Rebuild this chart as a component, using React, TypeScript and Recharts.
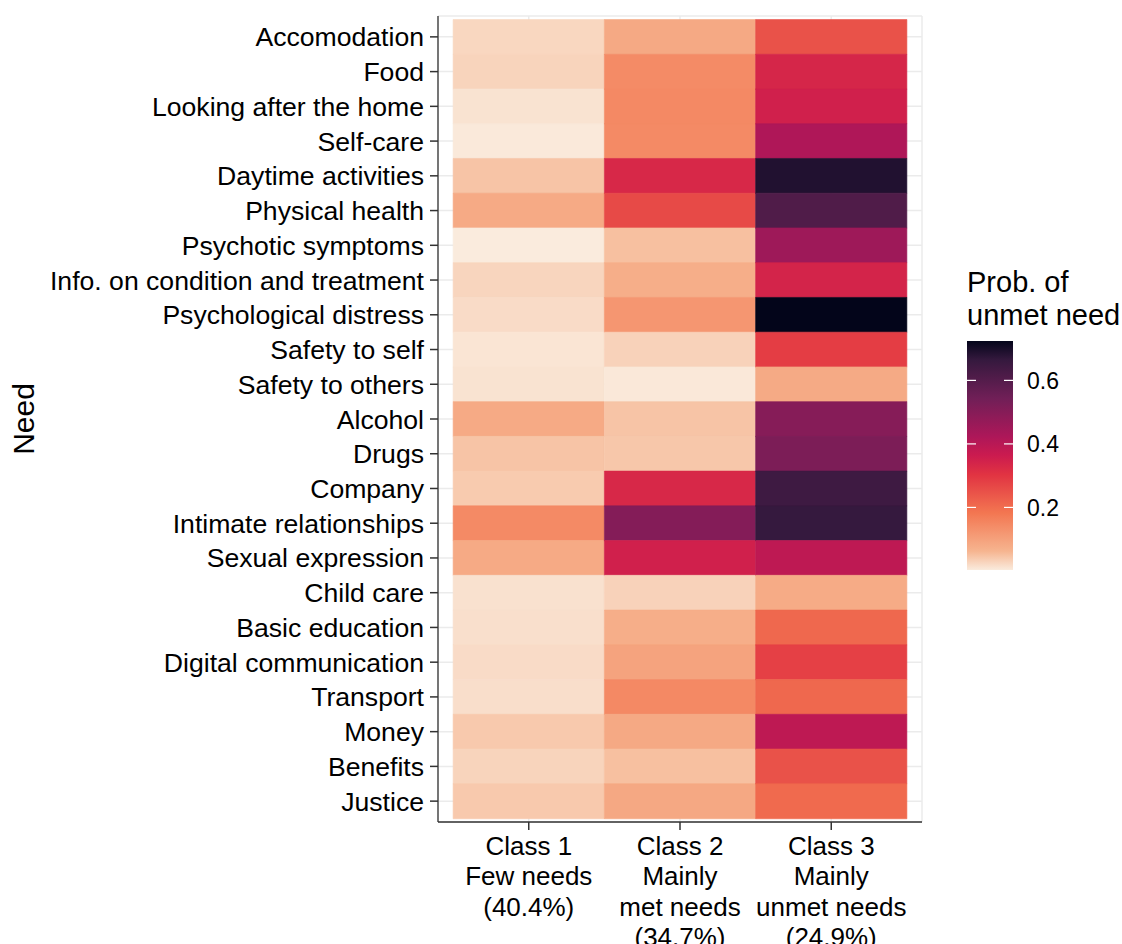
import React from 'react';
import { BarChart, Bar, Cell, XAxis, YAxis, CartesianGrid } from 'recharts';

// Needs, top to bottom
const NEEDS = [
  'Accomodation',
  'Food',
  'Looking after the home',
  'Self-care',
  'Daytime activities',
  'Physical health',
  'Psychotic symptoms',
  'Info. on condition and treatment',
  'Psychological distress',
  'Safety to self',
  'Safety to others',
  'Alcohol',
  'Drugs',
  'Company',
  'Intimate relationships',
  'Sexual expression',
  'Child care',
  'Basic education',
  'Digital communication',
  'Transport',
  'Money',
  'Benefits',
  'Justice',
];

// Probability of unmet need per latent class
const CLASS_1_FEW = [
  0.025, 0.028, 0.012, 0.005, 0.045, 0.082, 0.003, 0.027, 0.02, 0.01, 0.012, 0.082,
  0.045, 0.038, 0.145, 0.082, 0.014, 0.016, 0.02, 0.017, 0.04, 0.028, 0.04,
];
const CLASS_2_MET = [
  0.085, 0.142, 0.147, 0.145, 0.33, 0.262, 0.05, 0.075, 0.122, 0.03, 0.006, 0.045,
  0.042, 0.33, 0.505, 0.35, 0.03, 0.074, 0.096, 0.147, 0.085, 0.05, 0.087,
];
const CLASS_3_UNMET = [
  0.248, 0.335, 0.35, 0.42, 0.688, 0.609, 0.453, 0.342, 0.724, 0.285, 0.083, 0.5,
  0.52, 0.645, 0.664, 0.39, 0.08, 0.208, 0.28, 0.208, 0.39, 0.248, 0.205,
];

const CLASS_LABELS = [
  ['Class 1', 'Few needs', '(40.4%)'],
  ['Class 2', 'Mainly', 'met needs', '(34.7%)'],
  ['Class 3', 'Mainly', 'unmet needs', '(24.9%)'],
];
const CLASS_TICKS = [0.5, 1.5, 2.5];

const LEGEND_TITLE = ['Prob. of', 'unmet need'];
const LEGEND_TICKS = [0.2, 0.4, 0.6];

// Reversed "rocket" palette: light for low, dark for high
const ROCKET_REV: [number, string][] = [
  [0, '#FAEBDD'],
  [0.083, '#F6B48F'],
  [0.25, '#F37651'],
  [0.417, '#E13342'],
  [0.5, '#CB1B4F'],
  [0.583, '#AD1759'],
  [0.75, '#701F57'],
  [0.917, '#35193E'],
  [1, '#03051A'],
];

const FONT = '"Liberation Sans", Arial, Helvetica, sans-serif';
const GRID = '#EBEBEB';
const FRAME = '#333333';

const ALL_VALUES = [...CLASS_1_FEW, ...CLASS_2_MET, ...CLASS_3_UNMET];
const V_MIN = Math.min(...ALL_VALUES);
const V_MAX = Math.max(...ALL_VALUES);

const hexToRgb = (h: string) => [1, 3, 5].map((i) => parseInt(h.slice(i, i + 2), 16));

function rocket(value: number): string {
  const t = Math.max(0, Math.min(1, (value - V_MIN) / (V_MAX - V_MIN)));
  for (let i = 1; i < ROCKET_REV.length; i++) {
    const [t1, c1] = ROCKET_REV[i];
    const [t0, c0] = ROCKET_REV[i - 1];
    if (t <= t1) {
      const f = (t - t0) / (t1 - t0);
      const a = hexToRgb(c0);
      const b = hexToRgb(c1);
      const rgb = a.map((v, k) => Math.round(v + (b[k] - v) * f));
      return `rgb(${rgb[0]},${rgb[1]},${rgb[2]})`;
    }
  }
  return ROCKET_REV[ROCKET_REV.length - 1][1];
}

const rows = NEEDS.map((need, i) => ({
  need,
  p1: CLASS_1_FEW[i],
  p2: CLASS_2_MET[i],
  p3: CLASS_3_UNMET[i],
  // each class occupies one unit along the x scale
  w1: 1,
  w2: 1,
  w3: 1,
}));

const SERIES = [
  { span: 'w1', value: 'p1' },
  { span: 'w2', value: 'p2' },
  { span: 'w3', value: 'p3' },
];

const NeedTick = (props: any) => {
  const { x, y, payload } = props;
  return (
    <text x={x} y={y} dy={9.5} textAnchor="end" fontSize={26.6} fill="#000" fontFamily={FONT}>
      {payload.value}
    </text>
  );
};

const ClassTick = (props: any) => {
  const { x, y, payload } = props;
  const idx = CLASS_TICKS.indexOf(payload.value);
  const lines = CLASS_LABELS[idx] || [];
  return (
    <text x={x} y={y} textAnchor="middle" fontSize={26} fill="#000" fontFamily={FONT}>
      {lines.map((l, i) => (
        <tspan key={i} x={x} y={y + 19 + i * 30.3}>
          {l}
        </tspan>
      ))}
    </text>
  );
};

const NeedTitle = (props: any) => {
  const { viewBox } = props;
  const cx = viewBox.x + 34;
  const cy = viewBox.y + viewBox.height / 2;
  return (
    <text
      x={cx}
      y={cy}
      transform={`rotate(-90 ${cx} ${cy})`}
      textAnchor="middle"
      fontSize={30}
      fill="#000"
      fontFamily={FONT}
    >
      Need
    </text>
  );
};

const ColourBar = () => {
  const x = 967;
  const top = 341;
  const w = 46;
  const h = 229;
  const bottom = top + h;
  const yOf = (v: number) => bottom - ((v - V_MIN) / (V_MAX - V_MIN)) * h;
  return (
    <svg
      width={1122}
      height={944}
      style={{ position: 'absolute', left: 0, top: 0, pointerEvents: 'none' }}
    >
      <defs>
        <linearGradient id="rocketBar" x1="0" y1="1" x2="0" y2="0">
          {ROCKET_REV.map(([t, c]) => (
            <stop key={t} offset={t} stopColor={c} />
          ))}
        </linearGradient>
      </defs>
      {LEGEND_TITLE.map((l, i) => (
        <text key={l} x={x} y={292 + i * 33} fontSize={29} fill="#000" fontFamily={FONT}>
          {l}
        </text>
      ))}
      <rect x={x} y={top} width={w} height={h} fill="url(#rocketBar)" />
      {LEGEND_TICKS.map((t) => (
        <g key={t}>
          <line x1={x} x2={x + 9} y1={yOf(t)} y2={yOf(t)} stroke="#fff" strokeWidth={1.2} />
          <line x1={x + w - 9} x2={x + w} y1={yOf(t)} y2={yOf(t)} stroke="#fff" strokeWidth={1.2} />
          <text x={1027} y={yOf(t)} dy={8.2} fontSize={23} fill="#000" fontFamily={FONT}>
            {t.toFixed(1)}
          </text>
        </g>
      ))}
    </svg>
  );
};

export default function App() {
  return (
    <div style={{ position: 'absolute', left: 0, top: 0, width: 1122, height: 944, background: '#fff' }}>
      <BarChart
        width={1122}
        height={944}
        data={rows}
        layout="vertical"
        margin={{ top: 16, right: 200, bottom: 0, left: 0 }}
        barCategoryGap={0}
        barGap={0}
      >
        <CartesianGrid stroke={GRID} strokeWidth={1.5} />
        <XAxis
          type="number"
          domain={[-0.1, 3.1]}
          allowDataOverflow
          ticks={CLASS_TICKS}
          interval={0}
          height={122}
          tickSize={8}
          tickMargin={6}
          tick={<ClassTick />}
          tickLine={{ stroke: FRAME, strokeWidth: 1.5 }}
          axisLine={{ stroke: FRAME, strokeWidth: 1.3 }}
        />
        <XAxis
          xAxisId="top"
          orientation="top"
          type="number"
          domain={[-0.1, 3.1]}
          allowDataOverflow
          height={0}
          tick={false}
          tickLine={false}
          axisLine={{ stroke: FRAME, strokeWidth: 1.3 }}
        />
        <YAxis
          type="category"
          dataKey="need"
          width={438}
          interval={0}
          padding={{ top: 3.5, bottom: 3.5 }}
          tickSize={8}
          tickMargin={6}
          tick={<NeedTick />}
          tickLine={{ stroke: FRAME, strokeWidth: 1.5 }}
          axisLine={{ stroke: FRAME, strokeWidth: 1.3 }}
          label={{ value: 'Need', content: <NeedTitle /> }}
        />
        <YAxis
          yAxisId="right"
          orientation="right"
          type="category"
          dataKey="need"
          width={0}
          tick={false}
          tickLine={false}
          axisLine={{ stroke: FRAME, strokeWidth: 1.3 }}
        />
        {SERIES.map((s) => (
          <Bar key={s.span} dataKey={s.span} stackId="tiles" isAnimationActive={false}>
            {rows.map((r: any, i) => (
              <Cell key={i} fill={rocket(r[s.value])} stroke={rocket(r[s.value])} strokeWidth={0.6} />
            ))}
          </Bar>
        ))}
      </BarChart>
      <ColourBar />
    </div>
  );
}
